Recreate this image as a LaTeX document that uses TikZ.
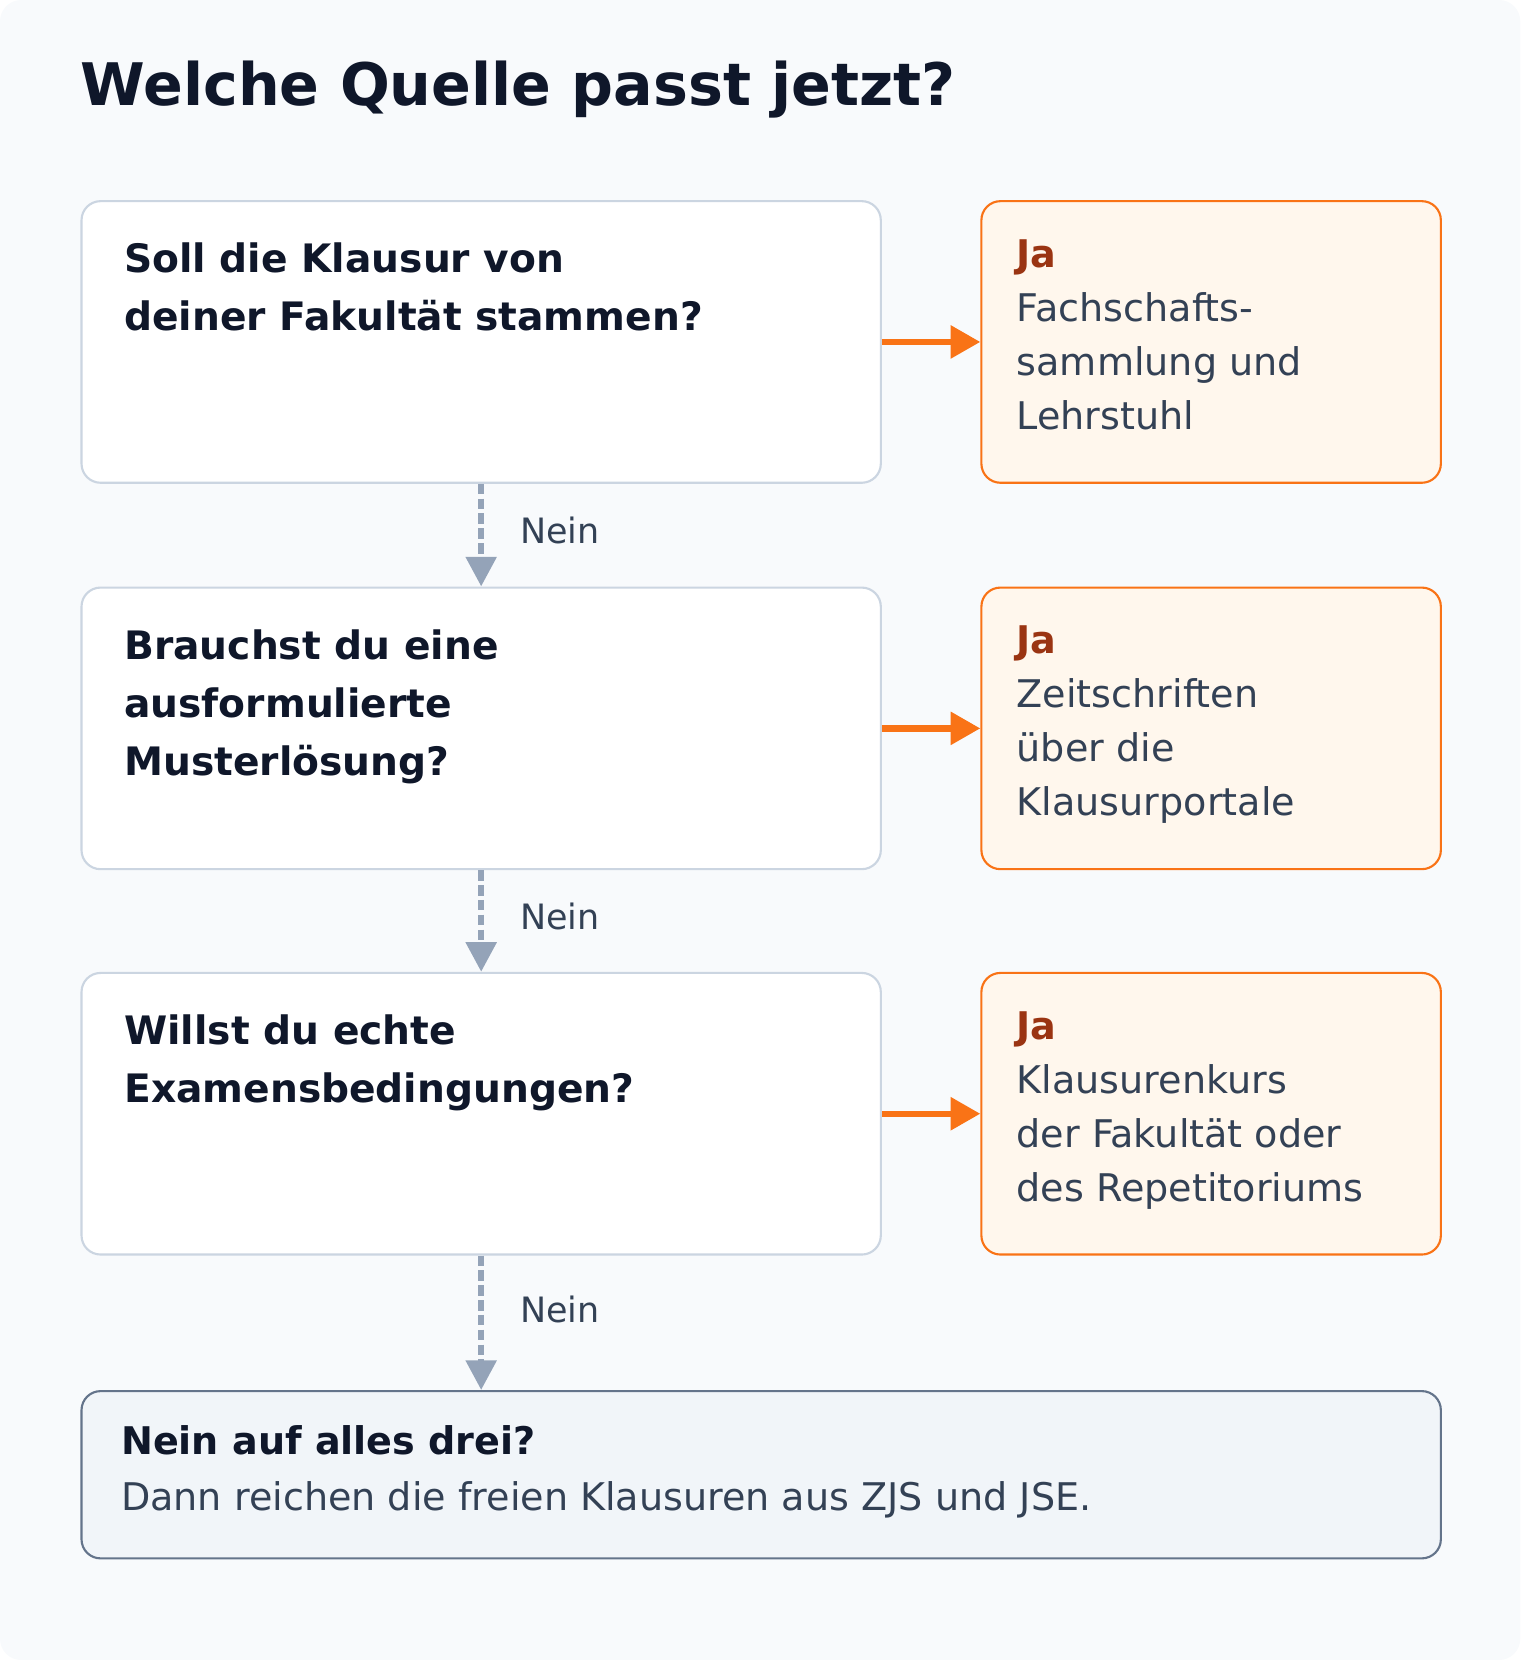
\documentclass[tikz,border=0pt]{standalone}
\usepackage{fontspec}
\setmainfont{DejaVu Sans}
\usetikzlibrary{positioning,arrows.meta}
\definecolor{bgcol}{HTML}{F8FAFC}
\definecolor{qline}{HTML}{CBD5E1}
\definecolor{orng}{HTML}{F97316}
\definecolor{afill}{HTML}{FFF7ED}
\definecolor{jacol}{HTML}{9A3412}
\definecolor{dark}{HTML}{0F172A}
\definecolor{txtgray}{HTML}{334155}
\definecolor{arrgray}{HTML}{94A3B8}
\definecolor{endfill}{HTML}{F1F5F9}
\definecolor{endline}{HTML}{64748B}
\tikzset{
  qbox/.style={draw=qline, line width=1pt, fill=white, rounded corners=9pt,
    minimum width=377.5pt, minimum height=133pt, anchor=north west, inner sep=0pt},
  abox/.style={draw=orng, line width=1pt, fill=afill, rounded corners=9pt,
    minimum width=217pt, minimum height=133pt, anchor=north west, inner sep=0pt},
  qtext/.style={anchor=north west, inner sep=0pt, align=left, text=dark,
    font=\fontsize{18.5}{27.5}\selectfont\bfseries},
  atext/.style={anchor=north west, inner sep=0pt, align=left, text=txtgray,
    font=\fontsize{18}{25.5}\selectfont},
  nein/.style={-{Triangle[length=14pt,width=14pt]}, arrgray, line width=3pt, dash pattern=on 5pt off 2pt},
  ja/.style={-{Triangle[length=14pt,width=15pt]}, orng, line width=3pt},
  neinlabel/.style={text=txtgray, font=\fontsize{16.5}{18}\selectfont, anchor=west, inner sep=0pt},
}
\begin{document}
\begin{tikzpicture}[x=0.5pt, y=-0.5pt]
  \fill[bgcol, rounded corners=10pt] (0,0) rectangle (1436,1568);
  \useasboundingbox (0,0) rectangle (1436,1568);
  \node[anchor=base west, inner sep=0pt, text=dark, font=\fontsize{27.7}{32}\selectfont\bfseries]
    (title) at (76,100) {Welche Quelle passt jetzt?};
  % questions
  \node[qbox] (q1) at (76,189) {};
  \node[qbox] (q2) at (76,554) {};
  \node[qbox] (q3) at (76,918) {};
  \node[qtext] at (117,229) {Soll die Klausur von\\deiner Fakultät stammen?};
  \node[qtext] at (117,594) {Brauchst du eine\\ausformulierte\\Musterlösung?};
  \node[qtext] at (117,958) {Willst du echte\\Examensbedingungen?};
  % answers
  \node[abox] (a1) at (926,189) {};
  \node[abox] (a2) at (926,554) {};
  \node[abox] (a3) at (926,918) {};
  \node[atext] at (960,226) {\textbf{\textcolor{jacol}{Ja}}\\Fachschafts-\\sammlung und\\Lehrstuhl};
  \node[atext] at (960,591) {\textbf{\textcolor{jacol}{Ja}}\\Zeitschriften\\über die\\Klausurportale};
  \node[atext] at (960,955) {\textbf{\textcolor{jacol}{Ja}}\\Klausurenkurs\\der Fakultät oder\\des Repetitoriums};
  % final box
  \node[draw=endline, line width=1pt, fill=endfill, rounded corners=9pt, anchor=north west,
    minimum width=642pt, minimum height=79pt, inner sep=0pt] (end) at (76,1313) {};
  \node[atext, font=\fontsize{18}{26.5}\selectfont] at (114,1346)
    {\textbf{\textcolor{dark}{Nein auf alles drei?}}\\Dann reichen die freien Klausuren aus ZJS und JSE.};
  % connectors
  \draw[nein] (q1.south) -- (q2.north) node[neinlabel, pos=0.45, right=17pt] {Nein};
  \draw[nein] (q2.south) -- (q3.north) node[neinlabel, pos=0.45, right=17pt] {Nein};
  \draw[nein] (q3.south) -- (end.north -| q3.south) node[neinlabel, pos=0.4, right=17pt] {Nein};
  \draw[ja] (q1.east) -- (a1.west);
  \draw[ja] (q2.east) -- (a2.west);
  \draw[ja] (q3.east) -- (a3.west);
\end{tikzpicture}
\end{document}
